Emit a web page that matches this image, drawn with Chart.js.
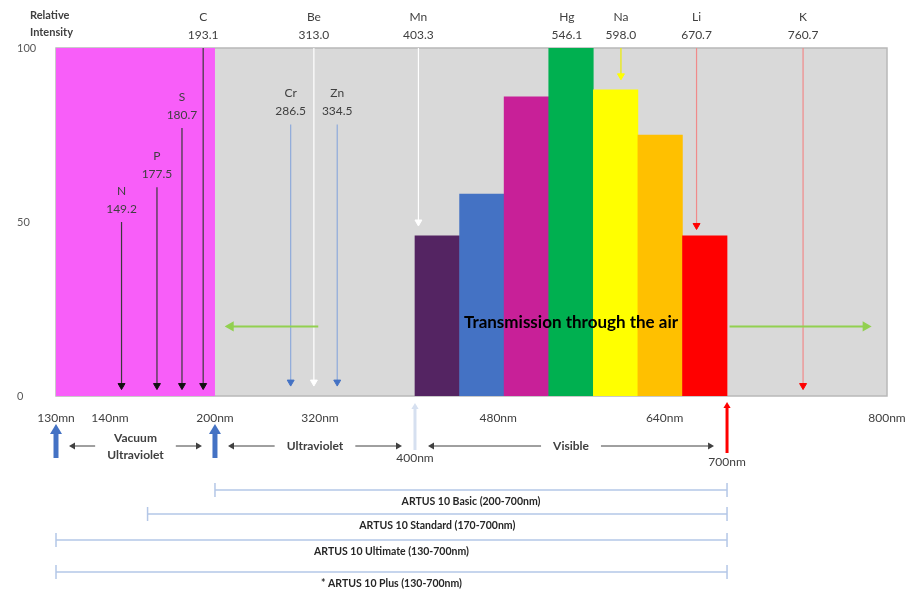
<!DOCTYPE html>
<html lang="en">
<head>
  <meta charset="UTF-8" />
  <title>Emission lines and ARTUS 10 wavelength ranges</title>
  <style>
    body { margin: 0; background: #fff; }
  </style>
</head>
<body>
  <canvas id="spectrum" width="905" height="591"></canvas>
  <script src="https://cdn.jsdelivr.net/npm/chart.js@4.4.1/dist/chart.umd.min.js"></script>
  <script>
    // element lines: wavelength (nm) and where each arrow starts / stops on the intensity scale
    const elements = ['N', 'P', 'S', 'C', 'Cr', 'Be', 'Zn', 'Mn', 'Hg', 'Na', 'Li', 'K'];
    const wavelengths = [149.2, 177.5, 180.7, 193.1, 286.5, 313.0, 334.5, 403.3, 546.1, 598.0, 670.7, 760.7];
    const lineFrom = [50, 60, 77, 100, 78, 100, 78, 100, null, 100, 100, 100];
    const lineTo = [3, 3, 3, 3, 4, 4, 4, 50, null, 92, 49, 3];

    // visible bands, 400-700nm
    const bandCenters = [421.4, 464.3, 507.1, 550.0, 592.9, 635.7, 678.6];
    const bandValues = [46, 58, 86, 100, 88, 75, 46];

    const xTickValues = [130, 140, 200, 320, 480, 640, 800];
    const xTickLabels = ['130mn', '140nm', '200nm', '320nm', '480nm', '640nm', '800nm'];
    const yTickValues = [0, 50, 100];

    const vacuumUV = [130, 200];
    const airLeft = [318, 218];
    const airRight = [702, 790];
    const airLevel = 20;

    const regions = [['Vacuum', 'Ultraviolet'], ['Ultraviolet'], ['Visible']];
    const regionFrom = [130, 200, 400];
    const regionTo = [200, 400, 700];

    const models = ['ARTUS 10 Basic (200-700nm)', 'ARTUS 10 Standard (170-700nm)',
      'ARTUS 10 Ultimate (130-700nm)', '* ARTUS 10 Plus (130-700nm)'];
    const modelFrom = [200, 170, 130, 130];
    const modelTo = [700, 700, 700, 700];

    // the wavelength axis is drawn schematically, not to scale
    const axisBreaks = [130, 140, 177.5, 180.7, 200, 320, 400, 700, 760.7, 800];
    const axisFractions = [0, 0.065, 0.1215, 0.1516, 0.1913, 0.3177, 0.432, 0.8075, 0.899, 1];

    const FONT = 'Lato, "Open Sans", sans-serif';
    const TEXT = '#404040';
    const MAGENTA = '#f85ef9';
    const bandColors = ['#542462', '#4472c4', '#c82098', '#00b050', '#ffff00', '#ffc000', '#ff0000'];
    const lineColors = ['#3a3a3a', '#3a3a3a', '#3a3a3a', '#3a3a3a', '#8eaadb', '#ffffff', '#8eaadb',
      '#ffffff', null, '#eded00', '#f08a8a', '#f08a8a'];
    const headColors = ['#111', '#111', '#111', '#111', '#4472c4', '#ffffff', '#4472c4',
      '#ffffff', null, '#ffff00', '#ff0000', '#ff0000'];

    class BrokenLinearScale extends Chart.LinearScale {
      getPixelForValue(value) {
        if (value === null || value === undefined || isNaN(value)) return NaN;
        const b = axisBreaks, f = axisFractions;
        let i = 0;
        while (i < b.length - 2 && value > b[i + 1]) i++;
        return this.getPixelForDecimal(f[i] + (value - b[i]) / (b[i + 1] - b[i]) * (f[i + 1] - f[i]));
      }
      getValueForPixel(pixel) {
        const d = this.getDecimalForPixel(pixel);
        const b = axisBreaks, f = axisFractions;
        let i = 0;
        while (i < f.length - 2 && d > f[i + 1]) i++;
        return b[i] + (d - f[i]) / (f[i + 1] - f[i]) * (b[i + 1] - b[i]);
      }
    }
    BrokenLinearScale.id = 'brokenLinear';
    BrokenLinearScale.defaults = Chart.LinearScale.defaults;
    Chart.register(BrokenLinearScale);

    Chart.defaults.font.family = FONT;

    const arrow = (ctx, x1, y1, x2, y2, color, width, head) => {
      const a = Math.atan2(y2 - y1, x2 - x1);
      const c = Math.cos(a), s = Math.sin(a);
      ctx.save();
      ctx.strokeStyle = color;
      ctx.fillStyle = color;
      ctx.lineWidth = width;
      ctx.beginPath();
      ctx.moveTo(x1, y1);
      ctx.lineTo(x2 - c * head, y2 - s * head);
      ctx.stroke();
      ctx.beginPath();
      ctx.moveTo(x2, y2);
      ctx.lineTo(x2 - c * head - s * head * 0.6, y2 - s * head + c * head * 0.6);
      ctx.lineTo(x2 - c * head + s * head * 0.6, y2 - s * head - c * head * 0.6);
      ctx.closePath();
      ctx.fill();
      ctx.restore();
    };

    const text = (ctx, str, x, y, font, color, align) => {
      ctx.font = font;
      ctx.fillStyle = color || TEXT;
      ctx.textAlign = align || 'center';
      ctx.textBaseline = 'middle';
      ctx.fillText(str, x, y);
    };

    const overlay = {
      id: 'overlay',
      beforeDatasetsDraw(chart) {
        const { ctx, chartArea: a } = chart;
        ctx.save();
        ctx.fillStyle = '#d9d9d9';
        ctx.fillRect(a.left, a.top, a.width, a.height);
        ctx.strokeStyle = '#b8b8b8';
        ctx.lineWidth = 1.5;
        ctx.strokeRect(a.left, a.top, a.width, a.height);
        ctx.restore();
      },
      afterDatasetsDraw(chart) {
        const { ctx, chartArea: a } = chart;
        const x = chart.scales.x, y = chart.scales.y;
        const px = v => x.getPixelForValue(v);
        ctx.save();

        text(ctx, 'Relative', y.left + 13, 15, 'bold 11px ' + FONT, TEXT, 'left');
        text(ctx, 'Intensity', y.left + 13, 32, 'bold 11px ' + FONT, TEXT, 'left');

        elements.forEach((el, i) => {
          const ex = px(wavelengths[i]);
          const above = lineFrom[i] === null || lineFrom[i] >= 100;
          const top = above ? a.top - 13 : y.getPixelForValue(lineFrom[i]) - 13;
          text(ctx, el, ex, top - 18, '12px ' + FONT);
          text(ctx, wavelengths[i].toFixed(1), ex, top, '12px ' + FONT);
        });

        text(ctx, 'Transmission through the air', px(550), y.getPixelForValue(airLevel + 1),
          'bold 17px ' + FONT, '#000');

        // wavelength region markers under the axis
        const b = a.bottom;
        arrow(ctx, px(130), b + 62, px(130), b + 28, '#4472c4', 5, 10);
        arrow(ctx, px(200), b + 62, px(200), b + 28, '#4472c4', 5, 10);
        arrow(ctx, px(400), b + 54, px(400), b + 7, '#d6e0f0', 3, 6);
        arrow(ctx, px(700), b + 57, px(700), b + 6, '#ff0000', 3, 6);
        text(ctx, '400nm', px(400), b + 62, '12px ' + FONT);
        text(ctx, '700nm', px(700), b + 66, '12px ' + FONT);

        regions.forEach((lines, i) => {
          const l = px(regionFrom[i]), r = px(regionTo[i]);
          const c = (l + r) / 2;
          ctx.font = 'bold 12px ' + FONT;
          const half = Math.max(...lines.map(t => ctx.measureText(t).width)) / 2;
          if (lines.length === 2) {
            text(ctx, lines[0], c, b + 42, 'bold 12px ' + FONT);
            text(ctx, lines[1], c, b + 59, 'bold 12px ' + FONT);
          } else {
            text(ctx, lines[0], c, b + 50, 'bold 12px ' + FONT);
          }
          arrow(ctx, c - half - 12, b + 50, l + 13, b + 50, '#404040', 1, 6);
          arrow(ctx, c + half + 12, b + 50, r - 13, b + 50, '#404040', 1, 6);
        });

        const lineY = [94, 118, 144, 176];
        models.forEach((m, i) => {
          const l = px(modelFrom[i]), r = px(modelTo[i]);
          const ly = b + lineY[i];
          ctx.strokeStyle = '#b4c7e7';
          ctx.lineWidth = 1.5;
          ctx.beginPath();
          ctx.moveTo(l, ly); ctx.lineTo(r, ly);
          ctx.moveTo(l, ly - 7); ctx.lineTo(l, ly + 7);
          ctx.moveTo(r, ly - 7); ctx.lineTo(r, ly + 7);
          ctx.stroke();
          text(ctx, m, (l + r) / 2, ly + 12, 'bold 10.5px ' + FONT, '#262626');
        });

        ctx.restore();
      }
    };

    const datasets = [
      {
        type: 'line', label: 'Vacuum UV', xAxisID: 'x',
        data: vacuumUV.map(v => ({ x: v, y: 100 })),
        fill: 'origin', backgroundColor: MAGENTA, borderWidth: 0, pointRadius: 0, order: 5
      },
      {
        type: 'bar', label: 'Visible', xAxisID: 'xb',
        data: bandCenters.map((v, i) => ({ x: v, y: bandValues[i] })),
        backgroundColor: bandColors, borderWidth: 0, grouped: false,
        barPercentage: 1, categoryPercentage: 1, order: 4
      },
      {
        type: 'line', label: 'air left', xAxisID: 'x',
        data: airLeft.map(v => ({ x: v, y: airLevel })),
        borderColor: '#92d050', borderWidth: 2, pointRadius: [0, 4], pointStyle: 'triangle',
        rotation: 270, pointBackgroundColor: '#92d050', pointBorderColor: '#92d050', order: 1
      },
      {
        type: 'line', label: 'air right', xAxisID: 'x',
        data: airRight.map(v => ({ x: v, y: airLevel })),
        borderColor: '#92d050', borderWidth: 2, pointRadius: [0, 4], pointStyle: 'triangle',
        rotation: 90, pointBackgroundColor: '#92d050', pointBorderColor: '#92d050', order: 1
      }
    ];

    elements.forEach((el, i) => {
      if (lineFrom[i] === null) return;
      datasets.push({
        type: 'line', label: el, xAxisID: 'x',
        data: [{ x: wavelengths[i], y: lineFrom[i] }, { x: wavelengths[i], y: lineTo[i] }],
        borderColor: lineColors[i], borderWidth: 1.2,
        pointRadius: [0, 4], pointStyle: 'triangle', rotation: 180,
        pointBackgroundColor: headColors[i], pointBorderColor: headColors[i], pointBorderWidth: 1,
        order: 2
      });
    });

    new Chart(document.getElementById('spectrum'), {
      type: 'line',
      data: { datasets },
      options: {
        responsive: false,
        animation: false,
        events: [],
        layout: { padding: { top: 48, right: 18, bottom: 0, left: 17 } },
        plugins: { legend: { display: false }, tooltip: { enabled: false } },
        scales: {
          x: {
            type: 'brokenLinear', axis: 'x', position: 'bottom', min: 130, max: 800,
            grid: { display: false }, border: { display: false },
            afterBuildTicks: s => { s.ticks = xTickValues.map(v => ({ value: v })); },
            afterFit: s => { s.height = 195; s.paddingLeft = 0; s.paddingRight = 0; },
            ticks: {
              autoSkip: false, maxRotation: 0, padding: 7, color: TEXT,
              font: { size: 12 }, callback: (v, i) => xTickLabels[i]
            }
          },
          xb: {
            type: 'brokenLinear', axis: 'x', position: 'bottom', min: 130, max: 800, display: false,
            afterBuildTicks: s => { s.ticks = bandCenters.map(v => ({ value: v })); }
          },
          y: {
            min: 0, max: 100,
            grid: { display: false }, border: { display: false },
            afterBuildTicks: s => { s.ticks = yTickValues.map(v => ({ value: v })); },
            afterFit: s => { s.width = 39; },
            ticks: { crossAlign: 'far', color: '#595959', font: { size: 11 } }
          }
        }
      },
      plugins: [overlay]
    });
  </script>
</body>
</html>
